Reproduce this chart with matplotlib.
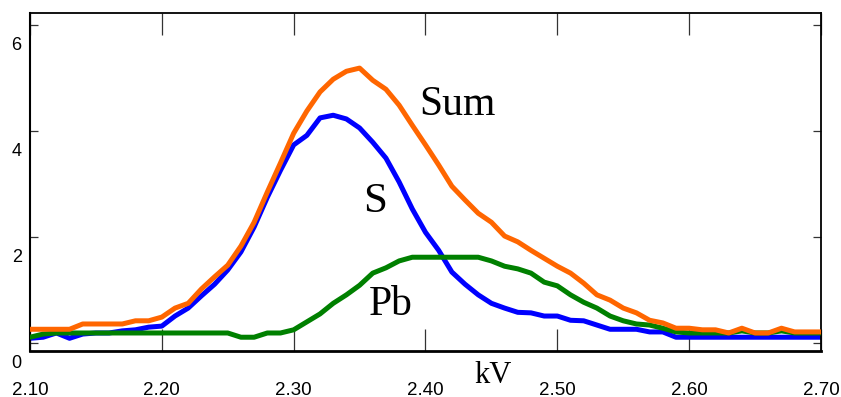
import matplotlib
matplotlib.use("Agg")
import matplotlib.pyplot as plt
import matplotlib.transforms as mtransforms
import numpy as np

# energy axis, 0.01 kV steps from 2.10 to 2.70
kv = np.round(np.arange(2.10, 2.7001, 0.01), 2)

sum_counts = [
    0.26, 0.26, 0.26, 0.26, 0.36, 0.36, 0.36, 0.36, 0.42, 0.42,
    0.49, 0.66, 0.75, 1.02, 1.25, 1.47, 1.83, 2.28, 2.85, 3.40,
    3.96, 4.38, 4.74, 4.98, 5.13, 5.19, 4.96, 4.79, 4.49, 4.11,
    3.74, 3.36, 2.96, 2.70, 2.45, 2.28, 2.02, 1.91, 1.75, 1.60,
    1.45, 1.32, 1.13, 0.91, 0.81, 0.66, 0.57, 0.43, 0.38, 0.28,
    0.28, 0.25, 0.25, 0.19, 0.28, 0.19, 0.19, 0.28, 0.21, 0.21,
    0.21,
]
s_counts = [
    0.09, 0.11, 0.19, 0.09, 0.17, 0.19, 0.19, 0.23, 0.25, 0.30,
    0.32, 0.51, 0.66, 0.89, 1.11, 1.38, 1.72, 2.19, 2.75, 3.26,
    3.74, 3.92, 4.25, 4.30, 4.23, 4.06, 3.79, 3.49, 3.04, 2.53,
    2.09, 1.75, 1.34, 1.11, 0.91, 0.75, 0.66, 0.58, 0.57, 0.51,
    0.51, 0.43, 0.42, 0.34, 0.26, 0.26, 0.26, 0.21, 0.21, 0.11,
    0.11, 0.11, 0.11, 0.11, 0.11, 0.11, 0.11, 0.11, 0.11, 0.11,
    0.11,
]
pb_counts = [
    0.11, 0.17, 0.19, 0.19, 0.19, 0.19, 0.19, 0.19, 0.19, 0.19,
    0.19, 0.19, 0.19, 0.19, 0.19, 0.19, 0.11, 0.11, 0.19, 0.19,
    0.25, 0.40, 0.55, 0.75, 0.91, 1.09, 1.32, 1.42, 1.55, 1.62,
    1.62, 1.62, 1.62, 1.62, 1.62, 1.55, 1.45, 1.40, 1.32, 1.15,
    1.08, 0.91, 0.77, 0.66, 0.51, 0.42, 0.36, 0.34, 0.28, 0.21,
    0.19, 0.19, 0.19, 0.19, 0.23, 0.19, 0.19, 0.23, 0.19, 0.19,
    0.19,
]

xticks = [2.10, 2.20, 2.30, 2.40, 2.50, 2.60, 2.70]
xtick_labels = ["2.10", "2.20", "2.30", "2.40", "2.50", "2.60", "2.70"]
yticks = [0, 2, 4, 6]
ytick_labels = ["0", "2", "4", "6"]

fig = plt.figure(figsize=(8.41, 3.97), dpi=100)
ax = fig.add_axes([30 / 841, 46 / 397, 791 / 841, 338 / 397])

lw = 3.6
ax.plot(kv, s_counts, color="#0000ff", linewidth=lw, zorder=2)
ax.plot(kv, pb_counts, color="#008000", linewidth=lw, zorder=3)
ax.plot(kv, sum_counts, color="#ff6600", linewidth=lw, zorder=4)

ax.set_xlim(2.10, 2.70)
ax.set_ylim(-0.15, 6.23)

ax.set_xticks(xticks)
ax.set_xticklabels(xtick_labels, fontfamily="Liberation Sans", fontsize=13.5)
ax.set_yticks(yticks)
ax.set_yticklabels(ytick_labels, fontfamily="Liberation Sans", fontsize=13)

ax.tick_params(axis="x", direction="in", length=16, width=0.9, color="#333333",
               top=True, pad=22)
ax.tick_params(axis="y", direction="in", length=6, width=0.9, color="#333333",
               right=True, pad=6)

# the y labels sit a little below their ticks in the original
shift = mtransforms.ScaledTranslation(0, -18 / 100, fig.dpi_scale_trans)
for lab in ax.get_yticklabels():
    lab.set_transform(lab.get_transform() + shift)

for side, w in [("left", 1.5), ("right", 1.3), ("top", 1.3), ("bottom", 2.0)]:
    ax.spines[side].set_linewidth(w)
    ax.spines[side].set_color("black")

serif = "Liberation Serif"
ax.text(2.395, 4.30, "Sum", fontfamily=serif, fontsize=30, va="baseline")
ax.text(2.353, 2.47, "S", fontfamily=serif, fontsize=31, va="baseline")
ax.text(2.357, 0.53, "Pb", fontfamily=serif, fontsize=30, va="baseline")

ax.set_xlabel("kV", fontfamily=serif, fontsize=22)
ax.xaxis.set_label_coords(0.585, -0.03)

fig.savefig("out.png", dpi=100)
